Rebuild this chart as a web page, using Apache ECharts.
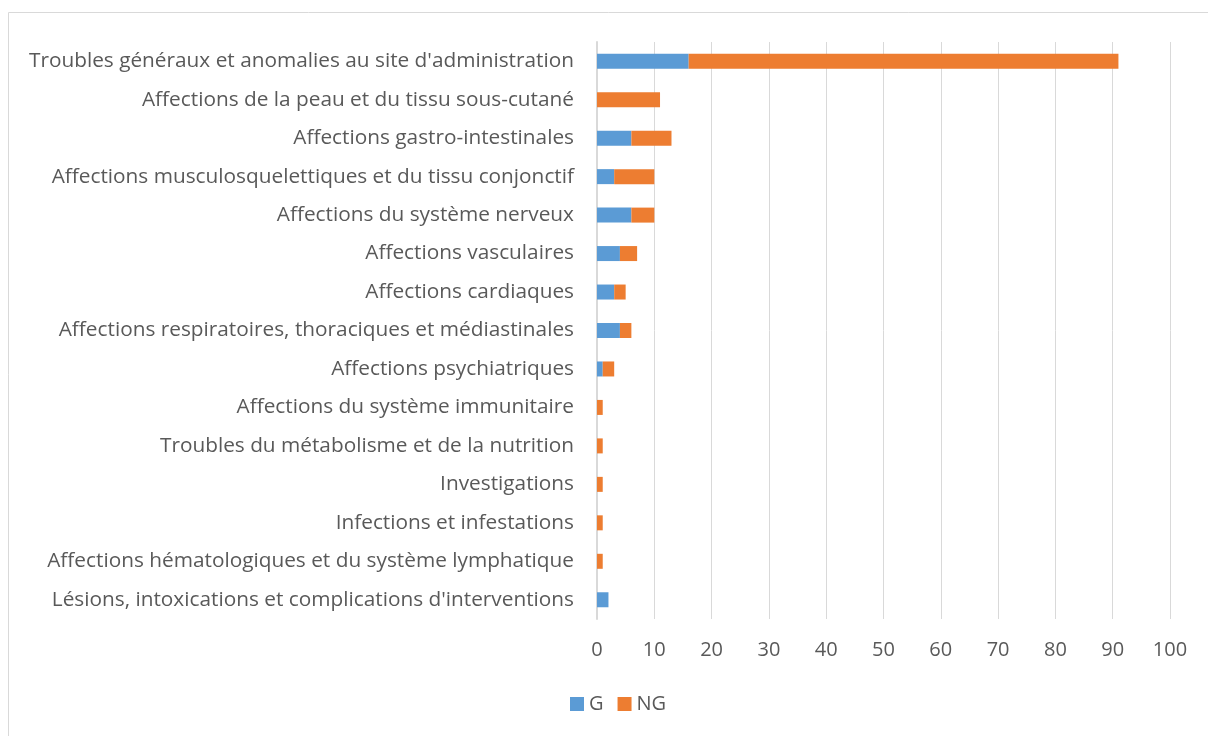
<!DOCTYPE html>
<html>
<head>
<meta charset="utf-8">
<script src="https://cdn.jsdelivr.net/npm/echarts@6/dist/echarts.min.js"></script>
<style>html,body{margin:0;padding:0;background:#fff}#c{width:1208px;height:736px}</style>
</head>
<body>
<div id="c"></div>
<script>
const categories = [
  "Troubles généraux et anomalies au site d'administration",
  "Affections de la peau et du tissu sous-cutané",
  "Affections gastro-intestinales",
  "Affections musculosquelettiques et du tissu conjonctif",
  "Affections du système nerveux",
  "Affections vasculaires",
  "Affections cardiaques",
  "Affections respiratoires, thoraciques et médiastinales",
  "Affections psychiatriques",
  "Affections du système immunitaire",
  "Troubles du métabolisme et de la nutrition",
  "Investigations",
  "Infections et infestations",
  "Affections hématologiques et du système lymphatique",
  "Lésions, intoxications et complications d'interventions"
];
const valuesG  = [16, 0, 6, 3, 6, 4, 3, 4, 1, 0, 0, 0, 0, 0, 2];
const valuesNG = [75, 11, 7, 7, 4, 3, 2, 2, 2, 1, 1, 1, 1, 1, 0];
const seriesNames = ["G", "NG"];

const chart = echarts.init(document.getElementById('c'));
const font = "'Open Sans', sans-serif";
chart.setOption({
  animation: false,
  textStyle: { fontFamily: font },
  graphic: [{
    type: 'rect', shape: { x: 8.5, y: 12.5, width: 1300, height: 800 },
    style: { fill: 'none', stroke: '#d9d9d9', lineWidth: 1 }, silent: true, z: -10
  }],
  legend: {
    data: seriesNames, left: 570, top: 694, padding: 0, itemWidth: 14, itemHeight: 14, itemGap: 14,
    icon: 'rect',
    textStyle: { fontSize: 20, color: '#595959', fontFamily: font }
  },
  grid: { left: 597, right: 38, top: 42, bottom: 117, containLabel: false },
  xAxis: {
    type: 'value', min: 0, max: 100, interval: 10,
    axisLine: { show: false }, axisTick: { show: false },
    splitLine: { lineStyle: { color: '#d9d9d9', width: 1 } },
    axisLabel: { fontSize: 20, color: '#595959', margin: 21, fontFamily: font }
  },
  yAxis: {
    type: 'category', data: categories, inverse: true,
    axisLine: { show: true, lineStyle: { color: '#d9d9d9', width: 2 } },
    axisTick: { show: false },
    axisLabel: { fontSize: 20.8, color: '#595959', margin: 23, fontFamily: font }
  },
  series: [
    { name: seriesNames[0], type: 'bar', stack: 't', data: valuesG, barWidth: 15, itemStyle: { color: '#5B9BD5' } },
    { name: seriesNames[1], type: 'bar', stack: 't', data: valuesNG, barWidth: 15, itemStyle: { color: '#ED7D31' } }
  ]
});
</script>
</body>
</html>
